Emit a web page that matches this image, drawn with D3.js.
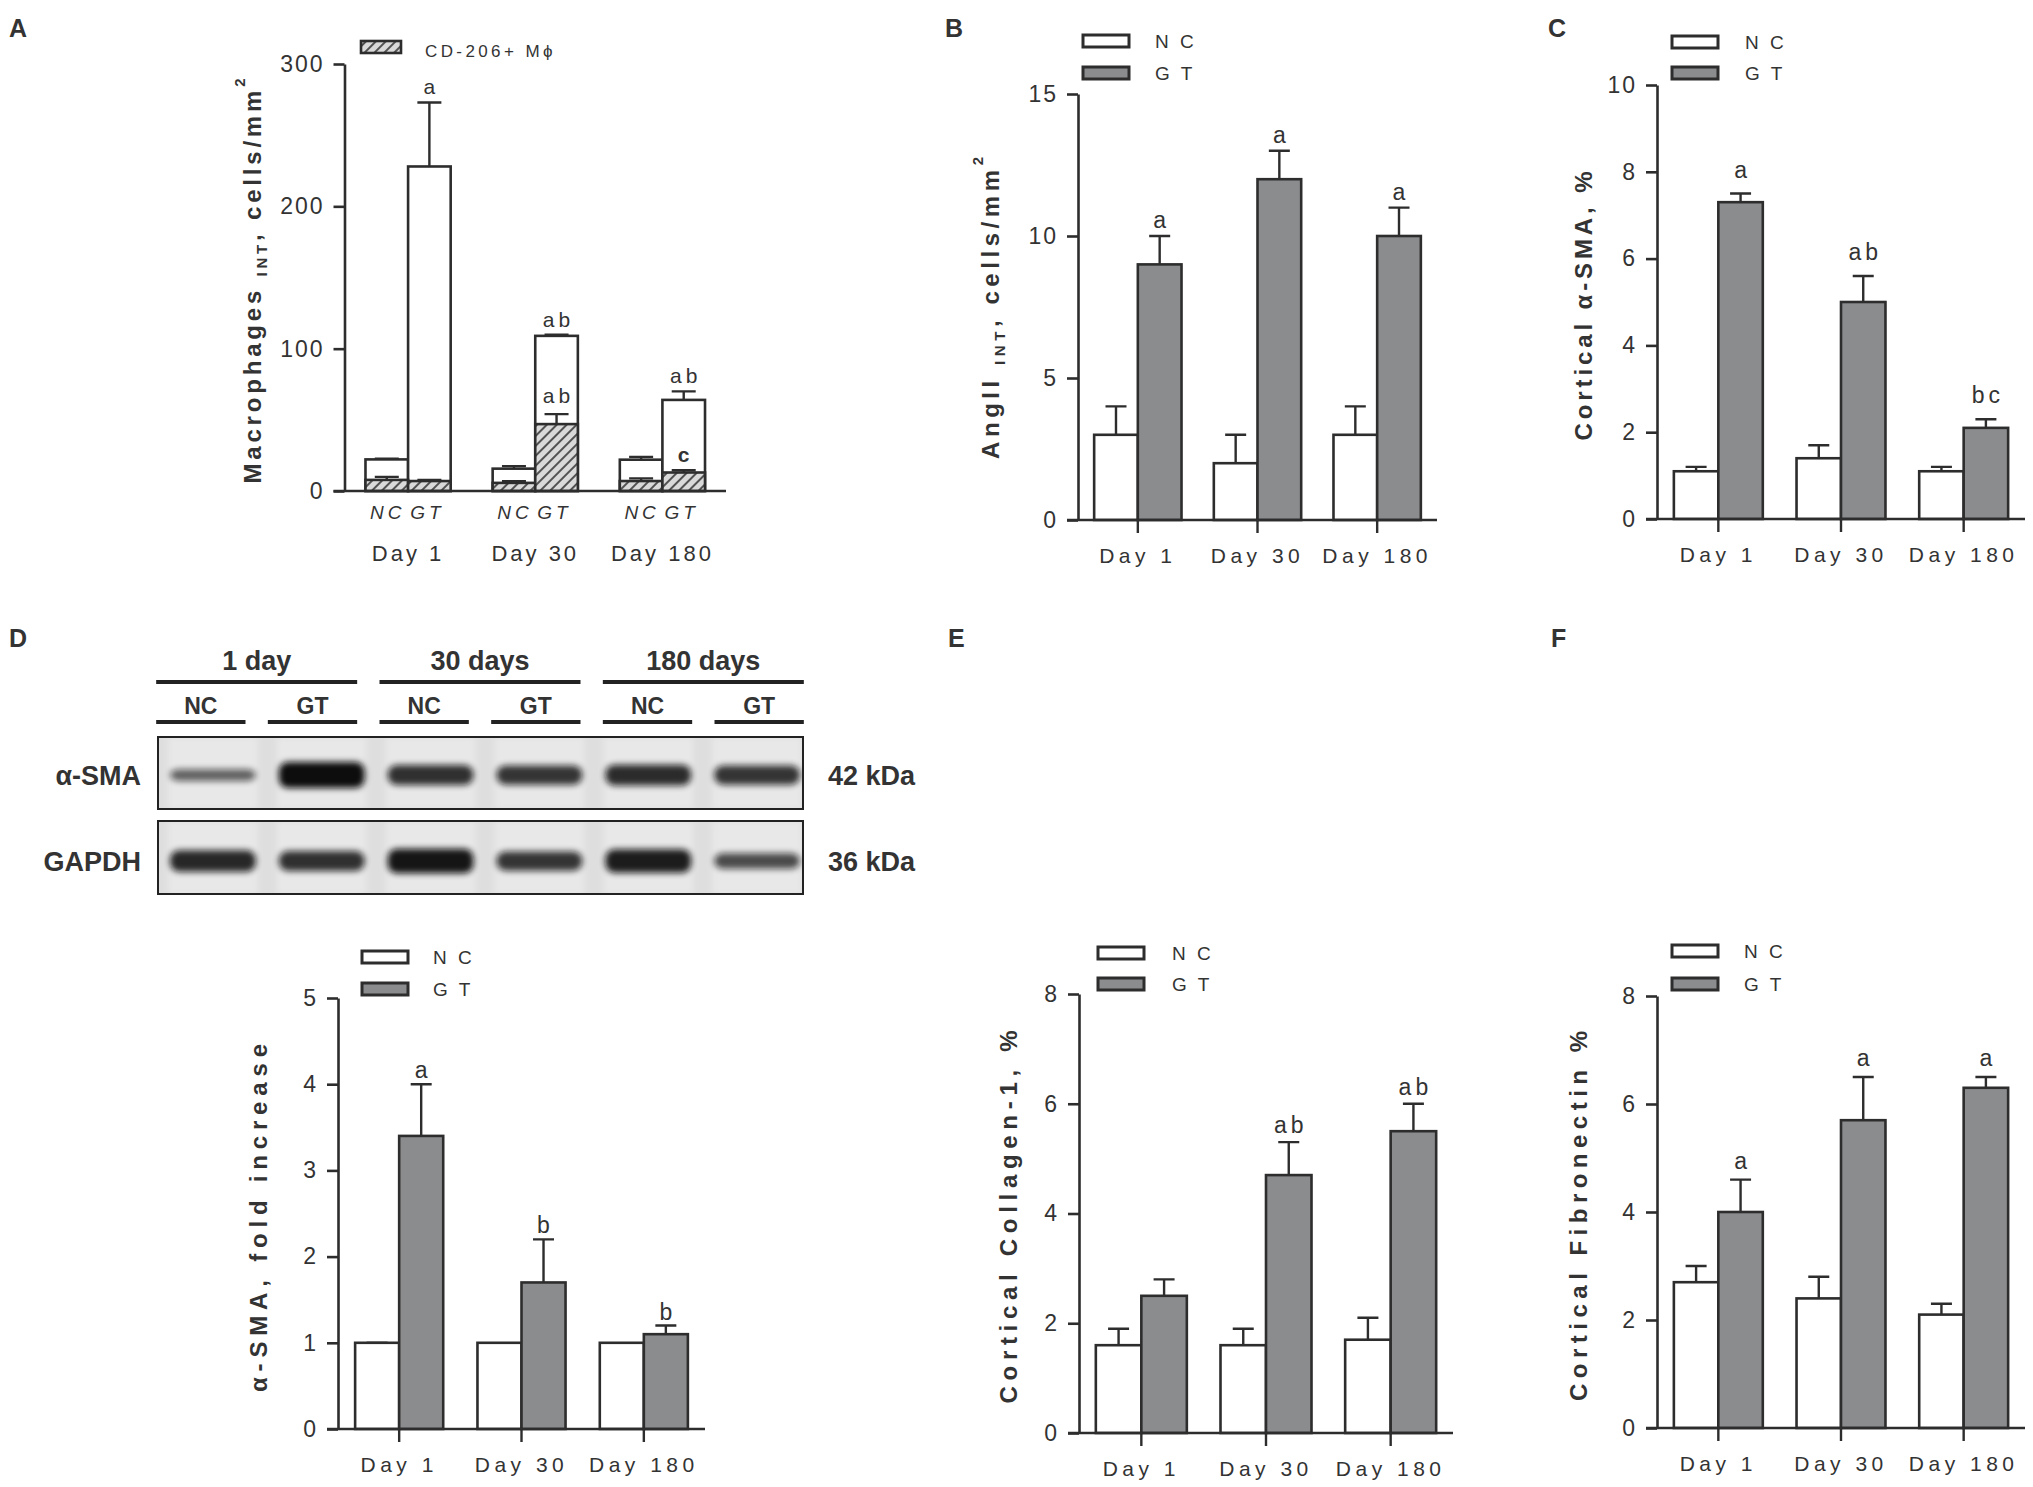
<!DOCTYPE html>
<html>
<head>
<meta charset="utf-8">
<script src="https://cdn.jsdelivr.net/npm/d3@7/dist/d3.min.js"></script>
<style>
body { margin: 0; background: #fff; }
svg text { font-family: "Liberation Sans", Arial, sans-serif; fill: #333; }
</style>
</head>
<body>
<svg id="fig" width="2033" height="1487"></svg>
<script>
// ---- data ----
var days = ["Day 1", "Day 30", "Day 180"];

// A: macrophages (total, white) and CD-206+ (hatched)
var macNC = [22.2, 15.7, 22], macNCsem = [0.5, 1.8, 2];
var macGT = [228, 109, 64], macGTsem = [45, 0.8, 6];
var cdNC = [7.8, 5.7, 7], cdNCsem = [2.1, 1.1, 1.9];
var cdGT = [7, 47, 13], cdGTsem = [0.8, 7, 1.6];
var macLetters = ["a", "ab", "ab"], cdLetters = ["", "ab", "c"];
var macTicks = [0, 100, 200, 300];

// B: AngII
var angNC = [3, 2, 3], angNCsem = [1, 1, 1];
var angGT = [9, 12, 10], angGTsem = [1, 1, 1];
var angLetters = ["a", "a", "a"];
var angTicks = [0, 5, 10, 15];

// C: cortical a-SMA
var smaNC = [1.1, 1.4, 1.1], smaNCsem = [0.1, 0.3, 0.1];
var smaGT = [7.3, 5.0, 2.1], smaGTsem = [0.2, 0.6, 0.2];
var smaLetters = ["a", "ab", "bc"];
var smaTicks = [0, 2, 4, 6, 8, 10];

// D: a-SMA fold increase (western blot)
var foldNC = [1, 1, 1], foldNCsem = [0, 0, 0.02];
var foldGT = [3.4, 1.7, 1.1], foldGTsem = [0.6, 0.5, 0.1];
var foldLetters = ["a", "b", "b"];
var foldTicks = [0, 1, 2, 3, 4, 5];

// E: collagen-1
var colNC = [1.6, 1.6, 1.7], colNCsem = [0.3, 0.3, 0.4];
var colGT = [2.5, 4.7, 5.5], colGTsem = [0.3, 0.6, 0.5];
var colLetters = ["", "ab", "ab"];
var colTicks = [0, 2, 4, 6, 8];

// F: fibronectin
var fibNC = [2.7, 2.4, 2.1], fibNCsem = [0.3, 0.4, 0.2];
var fibGT = [4.0, 5.7, 6.3], fibGTsem = [0.6, 0.8, 0.2];
var fibLetters = ["a", "a", "a"];
var fibTicks = [0, 2, 4, 6, 8];

// blot
var blotDays = ["1 day", "30 days", "180 days"];
var blotLanes = ["NC", "GT", "NC", "GT", "NC", "GT"];
var smaBand = [0.62, 1.0, 0.84, 0.82, 0.86, 0.82];
var gapdhBand = [0.88, 0.84, 0.96, 0.82, 0.93, 0.72];

// ---- drawing ----
var ink = "#2d2d2d", gtFill = "#8b8c8e";
var svg = d3.select("#fig");
svg.append("rect").attr("width", 2033).attr("height", 1487).attr("fill", "#fff");
var defs = svg.append("defs");
var pat = defs.append("pattern").attr("id", "hatch").attr("patternUnits", "userSpaceOnUse")
  .attr("width", 7).attr("height", 7).attr("patternTransform", "rotate(45)");
pat.append("rect").attr("width", 7).attr("height", 7).attr("fill", "#d9d9d9");
pat.append("line").attr("x1", 1).attr("y1", 0).attr("x2", 1).attr("y2", 7)
  .attr("stroke", "#3a3a3a").attr("stroke-width", 1.7);
defs.append("filter").attr("id", "blur").attr("x", "-30%").attr("y", "-100%")
  .attr("width", "160%").attr("height", "300%")
  .append("feGaussianBlur").attr("stdDeviation", 3);

function panelLetter(t, x, y) {
  svg.append("text").attr("x", x).attr("y", y).text(t)
    .attr("font-size", 25).attr("font-weight", "bold").attr("fill", "#222");
}

function yLabel(parts, cx, cy, len) {
  var t = svg.append("text")
    .attr("transform", "translate(" + cx + "," + cy + ") rotate(-90)")
    .attr("text-anchor", "middle").attr("dy", "0.36em")
    .attr("font-size", 24).attr("font-weight", "bold").attr("fill", "#2a2a2a")
    .attr("textLength", len).attr("lengthAdjust", "spacing");
  parts.forEach(function (p) {
    var s = t.append("tspan").text(p[0]);
    if (p[1] === "sub") s.attr("font-size", 15).attr("dy", 6);
    if (p[1] === "sup") s.attr("font-size", 15).attr("dy", -16);
    if (p[1] === "back") s.attr("dy", -6);
  });
}

function errBars(g, x, y, vals, sems, off, cap) {
  g.selectAll(null).data(vals).enter().append("path")
    .filter(function (d, i) { return sems[i] > 0; })
    .attr("d", function (d, i) {
      var cx = x(days[i]) + off, y1 = y(d), y2 = y(d + sems[i]);
      return "M" + cx + "," + y1 + "V" + y2 + "M" + (cx - cap / 2) + "," + y2 + "H" + (cx + cap / 2);
    })
    .attr("fill", "none").attr("stroke", ink).attr("stroke-width", 2.4);
}

function bars(g, x, y, vals, off, w, fill) {
  g.selectAll(null).data(vals).enter().append("rect")
    .attr("x", function (d, i) { return x(days[i]) + off; })
    .attr("y", function (d) { return y(d); })
    .attr("width", w)
    .attr("height", function (d) { return y(0) - y(d); })
    .attr("fill", fill).attr("stroke", ink).attr("stroke-width", 2.6);
}

function letters(g, x, y, vals, sems, labs, off, gap, size, bold) {
  g.selectAll(null).data(labs).enter().append("text")
    .attr("x", function (d, i) { return x(days[i]) + off + 2; })
    .attr("y", function (d, i) { return y(vals[i] + sems[i]) - gap; })
    .attr("text-anchor", "middle").attr("font-size", size)
    .attr("letter-spacing", 4).attr("font-weight", bold ? "bold" : null)
    .text(function (d) { return d; });
}

function yAxis(g, y, x0, ticks) {
  var a = g.append("g").attr("transform", "translate(" + x0 + ",0)")
    .call(d3.axisLeft(y).tickValues(ticks).tickFormat(d3.format("d"))
      .tickSize(11).tickPadding(9).tickSizeOuter(0));
  a.select(".domain").attr("stroke", ink).attr("stroke-width", 2.6);
  a.selectAll(".tick line").attr("stroke", ink).attr("stroke-width", 2.6);
  a.selectAll(".tick text").attr("font-size", 23).attr("letter-spacing", 2).attr("fill", "#3a3a3a");
}

function legend(bx, y1, y2, tx) {
  var g = svg.append("g");
  [["N C", "#fff", y1], ["G T", gtFill, y2]].forEach(function (d) {
    g.append("rect").attr("x", bx).attr("y", d[2]).attr("width", 46).attr("height", 12)
      .attr("fill", d[1]).attr("stroke", ink).attr("stroke-width", 3);
    g.append("text").attr("x", tx).attr("y", d[2] + 13).attr("font-size", 19)
      .attr("letter-spacing", 3).text(d[0]);
  });
}

function barPanel(p) {
  var g = svg.append("g");
  var x = d3.scaleBand().domain(days).range([p.x0, p.x1]).paddingInner(p.pad).paddingOuter(p.pad / 2);
  var y = d3.scaleLinear().domain([0, p.max]).range([p.y0, p.yTop]);
  var half = x.bandwidth() / 2;
  bars(g, x, y, p.nc, 0, half, "#fff");
  bars(g, x, y, p.gt, half, half, gtFill);
  errBars(g, x, y, p.nc, p.ncSem, half / 2, 21);
  errBars(g, x, y, p.gt, p.gtSem, half * 1.5, 21);
  letters(g, x, y, p.gt, p.gtSem, p.labs, half * 1.5, p.gap, 23, false);
  yAxis(g, y, p.x0, p.ticks);
  g.append("line").attr("x1", p.x0 - 11).attr("x2", p.x1).attr("y1", p.y0).attr("y2", p.y0)
    .attr("stroke", ink).attr("stroke-width", 2.6);
  var xa = g.append("g").attr("transform", "translate(0," + p.y0 + ")")
    .call(d3.axisBottom(x).tickSize(13).tickPadding(15).tickSizeOuter(0));
  xa.select(".domain").remove();
  xa.selectAll(".tick line").attr("stroke", ink).attr("stroke-width", 2.4);
  xa.selectAll(".tick text").attr("font-size", 21).attr("letter-spacing", 4.5).attr("fill", "#333");
}

// ---- panel A ----
(function () {
  var g = svg.append("g");
  var x0 = 344.5, x1 = 726, y0 = 491;
  var x = d3.scaleBand().domain(days).range([x0, x1]).paddingInner(0.33).paddingOuter(0.165);
  var y = d3.scaleLinear().domain([0, 300]).range([y0, 64]);
  var half = x.bandwidth() / 2;
  bars(g, x, y, macNC, 0, half, "#fff");
  bars(g, x, y, macGT, half, half, "#fff");
  errBars(g, x, y, macNC, macNCsem, half / 2, 24);
  errBars(g, x, y, macGT, macGTsem, half * 1.5, 24);
  bars(g, x, y, cdNC, 0, half, "url(#hatch)");
  bars(g, x, y, cdGT, half, half, "url(#hatch)");
  errBars(g, x, y, cdNC, cdNCsem, half / 2, 24);
  errBars(g, x, y, cdGT, cdGTsem, half * 1.5, 24);
  letters(g, x, y, macGT, macGTsem, macLetters, half * 1.5, 8, 21, false);
  letters(g, x, y, cdGT.slice(0, 2), cdGTsem, cdLetters.slice(0, 2), half * 1.5, 11, 21, false);
  letters(g, x, y, [0, 0].concat(cdGT.slice(2)), [0, 0].concat(cdGTsem.slice(2)),
    ["", ""].concat(cdLetters.slice(2)), half * 1.5, 8, 21, true);
  yAxis(g, y, x0, macTicks);
  g.append("line").attr("x1", x0 - 11).attr("x2", x1).attr("y1", y0).attr("y2", y0)
    .attr("stroke", ink).attr("stroke-width", 2.6);
  // group/day labels
  days.forEach(function (d) {
    ["NC", "GT"].forEach(function (s, j) {
      g.append("text").attr("x", x(d) + half * (j + 0.5) + (j ? -2 : 1)).attr("y", 519)
        .attr("text-anchor", "middle").attr("font-size", 19).attr("font-style", "italic")
        .attr("letter-spacing", 4).text(s);
    });
  });
  var xa = g.append("g").attr("transform", "translate(0," + y0 + ")")
    .call(d3.axisBottom(x).tickSize(0).tickPadding(54).tickSizeOuter(0));
  xa.select(".domain").remove();
  xa.selectAll(".tick text").attr("font-size", 22).attr("letter-spacing", 3).attr("fill", "#333");
  // legend
  g.append("rect").attr("x", 361).attr("y", 41).attr("width", 40).attr("height", 12)
    .attr("fill", "url(#hatch)").attr("stroke", ink).attr("stroke-width", 2.6);
  g.append("text").attr("x", 425).attr("y", 57).attr("font-size", 17).attr("letter-spacing", 3.4)
    .text("CD-206+ M\u03D5");
})();
panelLetter("A", 9, 37);
yLabel([["Macrophages "], ["INT", "sub"], [", cells/mm", "back"], ["2", "sup"]], 252, 281, 405);

// ---- B ----
panelLetter("B", 945, 37);
legend(1083, 35, 67, 1155);
barPanel({ x0: 1078, x1: 1437, y0: 520, yTop: 94, max: 15, pad: 0.27, ticks: angTicks,
  nc: angNC, ncSem: angNCsem, gt: angGT, gtSem: angGTsem, labs: angLetters, gap: 8 });
yLabel([["AngII "], ["INT", "sub"], [", cells/mm", "back"], ["2", "sup"]], 990, 308, 302);

// ---- C ----
panelLetter("C", 1548, 37);
legend(1672, 36, 67, 1745);
barPanel({ x0: 1657, x1: 2025, y0: 519, yTop: 85, max: 10, pad: 0.275, ticks: smaTicks,
  nc: smaNC, ncSem: smaNCsem, gt: smaGT, gtSem: smaGTsem, labs: smaLetters, gap: 16 });
yLabel([["Cortical \u03B1-SMA, %"]], 1583, 306, 269);

// ---- D blot ----
panelLetter("D", 9, 647);
(function () {
  var g = svg.append("g");
  var lab = d3.scaleBand().domain(d3.range(6)).range([145, 815]).paddingInner(0.2).paddingOuter(0.1);
  var lane = d3.scaleBand().domain(d3.range(6)).range([165, 805]).paddingInner(0.12);
  var thick = d3.scaleLinear().domain([0.6, 1]).range([11, 26]);
  blotDays.forEach(function (d, i) {
    var a = lab(2 * i), b = lab(2 * i + 1) + lab.bandwidth();
    g.append("line").attr("x1", a).attr("x2", b).attr("y1", 682).attr("y2", 682)
      .attr("stroke", "#222").attr("stroke-width", 4);
    g.append("text").attr("x", (a + b) / 2).attr("y", 670).attr("text-anchor", "middle")
      .attr("font-size", 27).attr("font-weight", "bold").attr("fill", "#1e1e1e").text(d);
  });
  blotLanes.forEach(function (d, i) {
    g.append("line").attr("x1", lab(i)).attr("x2", lab(i) + lab.bandwidth()).attr("y1", 722).attr("y2", 722)
      .attr("stroke", "#222").attr("stroke-width", 4);
    g.append("text").attr("x", lab(i) + lab.bandwidth() / 2).attr("y", 714).attr("text-anchor", "middle")
      .attr("font-size", 23).attr("font-weight", "bold").attr("fill", "#1e1e1e").text(d);
  });
  var blots = [
    { name: "\u03B1-SMA", kda: "42 kDa", top: 737, bot: 809, vals: smaBand, mid: 775 },
    { name: "GAPDH", kda: "36 kDa", top: 821, bot: 894, vals: gapdhBand, mid: 861 }
  ];
  blots.forEach(function (b, k) {
    var cp = defs.append("clipPath").attr("id", "clip" + k);
    cp.append("rect").attr("x", 158).attr("y", b.top).attr("width", 645).attr("height", b.bot - b.top);
    var bg = g.append("g").attr("clip-path", "url(#clip" + k + ")");
    bg.append("rect").attr("x", 158).attr("y", b.top).attr("width", 645).attr("height", b.bot - b.top)
      .attr("fill", "#dedede");
    bg.selectAll(null).data(b.vals).enter().append("rect")
      .attr("x", function (d, i) { return lane(i) + 3; })
      .attr("y", b.top).attr("width", lane.bandwidth() - 6).attr("height", b.bot - b.top)
      .attr("fill", "#e8e8e8").attr("filter", "url(#blur)");
    bg.selectAll(null).data(b.vals).enter().append("rect")
      .attr("x", function (d, i) { return lane(i) + 5; })
      .attr("y", function (d) { return b.mid - thick(d) / 2; })
      .attr("width", lane.bandwidth() - 10)
      .attr("height", function (d) { return thick(d); })
      .attr("rx", 9)
      .attr("fill", "#111").attr("opacity", function (d) { return d; })
      .attr("filter", "url(#blur)");
    g.append("rect").attr("x", 158).attr("y", b.top).attr("width", 645).attr("height", b.bot - b.top)
      .attr("fill", "none").attr("stroke", "#222").attr("stroke-width", 2);
    g.append("text").attr("x", 141).attr("y", b.mid + 10).attr("text-anchor", "end")
      .attr("font-size", 27).attr("font-weight", "bold").attr("fill", "#1e1e1e").text(b.name);
    g.append("text").attr("x", 828).attr("y", b.mid + 10)
      .attr("font-size", 27).attr("font-weight", "bold").attr("fill", "#1e1e1e").text(b.kda);
  });
})();

// ---- D chart ----
legend(362, 951, 983, 433);
barPanel({ x0: 338, x1: 705, y0: 1429, yTop: 998, max: 5, pad: 0.28, ticks: foldTicks,
  nc: foldNC, ncSem: foldNCsem, gt: foldGT, gtSem: foldGTsem, labs: foldLetters, gap: 6 });
yLabel([["\u03B1-SMA, fold increase"]], 258, 1218, 348);

// ---- E ----
panelLetter("E", 948, 647);
legend(1098, 947, 978, 1172);
barPanel({ x0: 1079, x1: 1453, y0: 1433, yTop: 994, max: 8, pad: 0.27, ticks: colTicks,
  nc: colNC, ncSem: colNCsem, gt: colGT, gtSem: colGTsem, labs: colLetters, gap: 9 });
yLabel([["Cortical Collagen-1, %"]], 1008, 1217, 373);

// ---- F ----
panelLetter("F", 1551, 647);
legend(1672, 945, 978, 1744);
barPanel({ x0: 1657, x1: 2025, y0: 1428, yTop: 996, max: 8, pad: 0.275, ticks: fibTicks,
  nc: fibNC, ncSem: fibNCsem, gt: fibGT, gtSem: fibGTsem, labs: fibLetters, gap: 11 });
yLabel([["Cortical Fibronectin %"]], 1578, 1216, 370);
</script>
</body>
</html>
